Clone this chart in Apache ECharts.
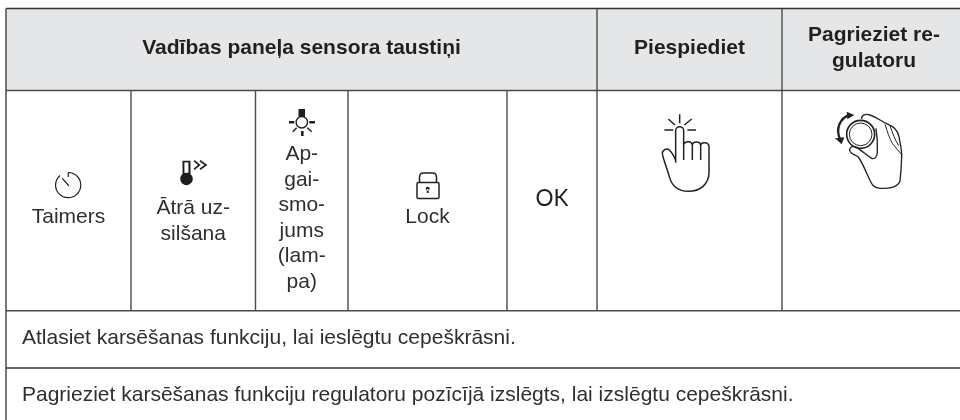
<!DOCTYPE html>
<html>
<head>
<meta charset="utf-8">
<style>html,body{margin:0;padding:0;background:#fff}#c{width:960px;height:420px}</style>
<script src="https://cdn.jsdelivr.net/npm/echarts@6/dist/echarts.min.js"></script>
</head>
<body>
<div id="c"></div>
<script>
const headerLabels = ["Vadības paneļa sensora taustiņi", "Piespiediet", "Pagrieziet re-\ngulatoru"];
const keyLabels = ["Taimers", "Ātrā uz-\nsilšana", "Ap-\ngai-\nsmo-\njums\n(lam-\npa)", "Lock"];
const okLabel = "OK";
const noteLabels = [
  "Atlasiet karsēšanas funkciju, lai ieslēgtu cepeškrāsni.",
  "Pagrieziet karsēšanas funkciju regulatoru pozīcījā izslēgts, lai izslēgtu cepeškrāsni."
];
const colX = [6, 131, 255.5, 348, 507, 597, 782];
const rowY = [8.5, 90.5, 310.7, 368];
const W = 960, H = 420;
const INK = "#4a4a4a", TXT = "#2f2f2f", HEAD = "#231f20";

const g = [];
const icons = [];
const line = (x1, y1, x2, y2, w, c) => g.push({type:"line", silent:true,
  shape:{x1,y1,x2,y2}, style:{stroke:c||INK, lineWidth:w||1.4}});
const text = (s, x, y, font, align, fill, lh) => g.push({type:"text", silent:true, x, y,
  style:{text:s, font, fill:fill||TXT, align:align||"center", verticalAlign:"middle", lineHeight:lh||25.5}});
const icon = (d, ox, oy, k, style) => icons.push({type:"path", silent:true, x:ox, y:oy, scaleX:k, scaleY:k,
  shape:{pathData:d}, style:Object.assign({fill:"none", stroke:"#222", lineWidth:1.3, lineCap:"butt", lineJoin:"round"}, style)});

g.push({type:"rect", silent:true, z:-1, shape:{x:colX[0], y:rowY[0], width:W-colX[0], height:rowY[1]-rowY[0]}, style:{fill:"#e5e6e8"}});

rowY.forEach((y,i) => line(colX[0], y, W, y, 1.5, i===3||i===0 ? "#333" : INK));
line(colX[0], rowY[0], colX[0], H, 1.5);
[5,6].forEach(i => line(colX[i], rowY[0], colX[i], rowY[2], 1.4));
[1,2,3,4].forEach(i => line(colX[i], rowY[1], colX[i], rowY[2], 1.4));

const HF = "bold 21px 'Liberation Sans'";
text(headerLabels[0], (colX[0]+colX[5])/2, 48, HF, "center", HEAD);
text(headerLabels[1], (colX[5]+colX[6])/2, 48, HF, "center", HEAD);
text(headerLabels[2], 874, 48, HF, "center", HEAD, 26);

const BF = "21px 'Liberation Sans'";
text(keyLabels[0], (colX[0]+colX[1])/2, 217, BF);
text(keyLabels[1], (colX[1]+colX[2])/2, 221, BF);
text(keyLabels[2], (colX[2]+colX[3])/2, 218, BF);
text(keyLabels[3], (colX[3]+colX[4])/2, 217, BF);
text(okLabel, (colX[4]+colX[5])/2, 199, "22.5px 'Lato'", "center", HEAD);

text(noteLabels[0], 22, 338, BF, "left");
text(noteLabels[1], 22, 395, BF, "left");

// timer
icon("M68.3 177V172.5A12.6 12.6 0 1 1 60 175.5M62.3 178.3L69 186", 0, 0, 1, {lineWidth:1.2});
// thermometer
icon("M182.5 160.7H190.5V174A6.3 6.3 0 1 1 182.5 174Z", 0, 0, 1, {fill:"#1d1d1d", stroke:"none"});
icon("M184.4 162.4H188.4V172.8H184.4Z", 0, 0, 1, {fill:"#fff", stroke:"none"});
icon("M194 160.7L199.3 165L194 169.3M200 160.7L206 165L200 169.3", 0, 0, 1, {lineWidth:1.7, lineJoin:"miter"});
// lamp
icon("M298.5 109H305V117H298.5Z", 0, 0, 1, {fill:"#1d1d1d", stroke:"none"});
icon("M307.5 122.3A5.7 5.7 0 1 1 296.1 122.3A5.7 5.7 0 1 1 307.5 122.3Z", 0, 0, 1, {lineWidth:1.4});
icon("M289 122.3H294.3M309.3 122.3H315M302.3 131V136", 0, 0, 1, {lineWidth:2.6});
icon("M292.7 131.7L296.7 127.7M307.3 127.7L311.7 131.7", 0, 0, 1, {lineWidth:1.5});
// lock
icon("M417 184Q417 182.5 418.5 182.5H437.5Q439 182.5 439 184V197Q439 198.5 437.5 198.5H418.5Q417 198.5 417 197Z", 0, 0, 1, {lineWidth:1.5});
icon("M419.5 182V177Q419.5 173 423.5 173H432.5Q436.5 173 436.5 177V182", 0, 0, 1, {lineWidth:1.5});
icon("M429.7 188.8A2 2 0 1 1 425.7 188.8A2 2 0 1 1 429.7 188.8ZM426.9 189L426.7 193H428.7L428.5 189Z", 0, 0, 1, {fill:"#222", stroke:"none"});
// pressing hand (3x units)
icon("M209 58V85M175 72L195 90M245 72L223 90M163 105H190M232 105H258", 610, 95, 1/3, {lineWidth:4.5});
icon("M197 203V107A12 12 0 0 1 221 107V195M221 150C223 138 247 136 247 152V195M247 150C249 138 272 138 272 152V195M272 150C274 140 297 140 297 156V232C297 268 270 289 235 289C205 289 185 272 178 245C172 222 160 195 157 176C156 166 170 158 178 165C186 172 192 184 197 196", 610, 95, 1/3, {lineWidth:4.5});
// knob and hand (3x units)
icon("M254 118A42 42 0 1 1 170 118A42 42 0 1 1 254 118Z", 790, 95, 1/3, {lineWidth:5});
icon("M246 118A34 34 0 1 1 178 118A34 34 0 1 1 246 118Z", 790, 95, 1/3, {lineWidth:3});
icon("M180 58C150 70 135 100 151 135", 790, 95, 1/3, {lineWidth:7});
icon("M170 50L193 60L172 73ZM135 130L163 127L155 148Z", 790, 95, 1/3, {fill:"#222", stroke:"none"});
icon("M216 72C212 62 225 55 240 60C262 67 275 80 290 86C310 95 322 102 327 125C331 150 336 165 335 185C334 215 332 240 330 258C325 275 300 282 270 280C250 278 245 268 238 252C228 230 218 205 205 186C195 178 180 178 179 165C178 157 188 152 196 155C212 165 230 180 245 190C255 193 262 185 262 172C263 150 262 125 258 100", 790, 95, 1/3, {lineWidth:4});
icon("M285 88C292 110 298 130 307 145C318 160 328 170 334 178M300 92C308 115 315 135 326 152", 790, 95, 1/3, {lineWidth:3});

const chart = echarts.init(document.getElementById("c"), null, {renderer:"canvas", width:W, height:H});
chart.setOption({
  animation:false, backgroundColor:"#fff",
  graphic:{elements:g},
  series:[{type:"custom", coordinateSystem:"none", silent:true, data:[0],
    renderItem:() => ({type:"group", children:icons})}]
});
</script>
</body>
</html>
